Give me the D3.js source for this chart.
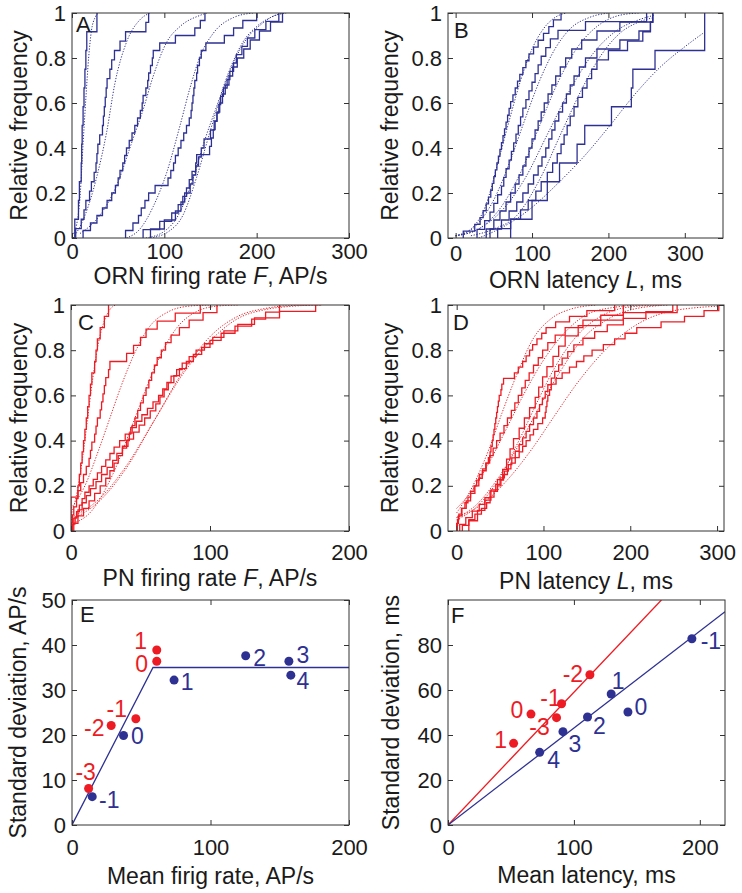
<!DOCTYPE html>
<html><head><meta charset="utf-8">
<script src="https://cdn.jsdelivr.net/npm/d3@7"></script>
<style>
body{margin:0;background:#fff}
text{font-family:"Liberation Sans",Arial,Helvetica,sans-serif}
</style>
</head><body>
<script>
// ---------------- DATA ----------------
// Panel A: ORN firing rate samples (AP/s), one array per stimulus level
const ornRate1 = [3, 7, 8, 10, 10.5, 11, 12, 13, 14, 15, 16, 27];
const ornRate2 = [4, 10, 13, 15, 19, 21, 24, 26, 27, 28, 30, 33, 34, 35, 36, 37, 38, 41, 43, 46, 52, 58, 80, 83];
const ornRate3 = [12, 20, 27, 33, 38, 43, 47, 50, 52, 55, 57, 59, 62, 65, 68, 71, 74, 76, 77, 80, 82, 83, 85, 87, 88, 95, 112, 133, 139, 144];
const ornRate4 = [58, 66, 72, 75, 79, 83, 90, 104, 107, 110, 112, 115, 118, 121, 124, 127, 129, 130, 131, 132, 133, 135, 136, 138, 140, 145, 165, 175, 185, 200];
const ornRate5 = [77, 95, 108, 115, 120, 124, 127, 130, 134, 135, 149, 151, 153, 155, 157, 159, 161, 164, 168, 171, 175, 178, 184, 190, 198, 210, 224];
const ornRate6 = [85, 100, 112, 118, 122, 128, 131, 134, 137, 140, 143, 150, 154, 157, 160, 163, 166, 170, 174, 179, 186, 193, 203, 215, 228];
const ornRateFit1 = [[0,0.01],[5,0.06],[9,0.2],[12,0.42],[15,0.62],[18,0.8],[21,0.92],[25,0.98],[29,1]];
const ornRateFit2 = [[1.4,0],[14,0.1],[26.7,0.27],[37.5,0.47],[46.6,0.69],[59,0.87],[73.6,0.97],[84.5,1]];
const ornRateFit3 = [[8.7,0.02],[30,0.1],[48,0.23],[66,0.44],[77,0.57],[88,0.72],[102.5,0.87],[117,0.94],[139,0.99],[146,1]];
const ornRateFit4 = [[59,0],[73.6,0.04],[88,0.14],[102.5,0.29],[117,0.5],[128,0.67],[139,0.81],[153,0.91],[175,0.98],[196,1]];
const ornRateFit5 = [[80,0],[100,0.03],[115,0.1],[130,0.25],[145,0.45],[158,0.6],[170,0.74],[185,0.87],[200,0.94],[215,0.98],[230,1]];
const ornRateFit6 = [[85,0],[105,0.03],[120,0.1],[135,0.27],[150,0.48],[162,0.64],[175,0.78],[190,0.89],[205,0.95],[220,0.99],[232,1]];

// Panel B: ORN latency samples (ms)
const ornLat1 = [10, 25, 32, 36, 40, 43, 46, 48, 50, 52, 54, 56, 58, 60, 62, 64, 66, 68, 70, 72, 75, 78, 81, 84, 88, 92, 96, 102, 108, 115, 122, 128, 138];
const ornLat2 = [28, 38, 45, 50, 55, 60, 63, 66, 70, 73, 76, 79, 82, 85, 88, 92, 96, 100, 104, 108, 112, 118, 124, 134, 170, 250];
const ornLat3 = [40, 50, 58, 66, 72, 78, 83, 88, 92, 96, 100, 104, 108, 112, 116, 121, 126, 131, 137, 144, 152, 165, 185, 215, 258];
const ornLat4 = [45, 60, 70, 80, 88, 95, 102, 108, 113, 118, 122, 126, 130, 135, 140, 145, 150, 155, 162, 170, 185, 215, 240, 255, 258];
const ornLat5 = [55, 72, 85, 95, 105, 112, 120, 127, 133, 138, 142, 146, 150, 155, 160, 166, 172, 178, 185, 200, 225, 245, 255, 258];
const ornLat6 = [72, 100, 120, 136, 159, 169, 204, 230, 232, 261, 326, 326];
const ornLatFit1 = [[0,0.01],[20,0.04],[40,0.15],[55,0.33],[70,0.52],[85,0.7],[100,0.84],[115,0.93],[130,0.98],[145,1]];
const ornLatFit2 = [[0,0.01],[25,0.05],[50,0.17],[70,0.33],[90,0.52],[110,0.7],[130,0.84],[150,0.93],[175,0.98],[200,1]];
const ornLatFit3 = [[0,0.01],[30,0.04],[60,0.14],[85,0.29],[110,0.5],[135,0.7],[160,0.85],[185,0.94],[215,0.99],[240,1]];
const ornLatFit4 = [[0,0.01],[30,0.04],[60,0.12],[90,0.26],[120,0.46],[150,0.66],[180,0.82],[210,0.92],[240,0.97],[260,0.99]];
const ornLatFit5 = [[20,0.01],[50,0.04],[80,0.1],[110,0.26],[140,0.48],[165,0.66],[190,0.81],[215,0.91],[240,0.96],[260,0.98]];
const ornLatFit6 = [[30,0],[51,0.03],[94,0.12],[136,0.25],[170,0.37],[202,0.5],[235,0.64],[268,0.76],[300,0.85],[328,0.92]];

// Panel C: PN firing rate samples (AP/s)
const pnRate1 = [0, 0, 0, 5, 6, 7, 8, 9, 10, 11, 12, 13, 14, 15, 17, 18, 19, 21, 24, 27];
const pnRate2 = [0, 1, 2, 4, 5, 7, 9, 11, 13, 14, 15, 17, 18, 19, 21, 22, 23, 24, 25, 27, 28, 40, 45, 50, 54, 62, 75, 93];
const pnRate3 = [2, 5, 9, 13, 17, 21, 25, 28, 31, 34, 37, 40, 42, 44, 46, 48, 50, 52, 54, 56, 58, 60, 62, 65, 68, 72, 78, 85, 95, 105];
const pnRate4 = [1, 2, 4, 6, 8, 10, 13, 16, 19, 22, 25, 28, 31, 35, 39, 43, 47, 51, 55, 59, 63, 66, 69, 72, 76, 80, 85, 90, 96, 102, 110, 120, 132, 150, 176];
const pnRate5 = [0, 3, 5, 8, 11, 14, 18, 22, 26, 30, 33, 37, 41, 45, 49, 53, 57, 61, 64, 67, 70, 74, 78, 83, 88, 94, 100, 108, 118, 130, 140, 150];
const pnRateFit1 = [[0,0.07],[4,0.16],[8,0.31],[12,0.5],[16,0.69],[20,0.84],[24,0.93],[28,0.98],[32,1]];
const pnRateFit2 = [[0,0.1],[10,0.2],[20,0.36],[28,0.5],[36,0.64],[46,0.79],[56,0.9],[70,0.97],[85,0.995],[100,1]];
const pnRateFit3 = [[0,0.03],[15,0.09],[30,0.25],[46,0.5],[60,0.72],[75,0.89],[90,0.97],[105,0.995],[120,1]];
const pnRateFit4 = [[0,0.05],[20,0.13],[40,0.28],[60,0.49],[80,0.7],[100,0.86],[120,0.95],[140,0.985],[160,0.998],[180,1]];
const pnRateFit5 = [[0,0.06],[20,0.14],[40,0.29],[60,0.49],[80,0.69],[100,0.84],[120,0.94],[140,0.98],[160,0.995],[180,1]];

// Panel D: PN latency samples (ms)
const pnLat1 = [0, 1, 2.5, 5.5, 9.5, 13, 16, 20, 23, 26, 30, 33.5, 36.5, 38.5, 39.5, 41, 42, 43, 44, 45, 46, 47, 48, 49, 51, 52, 54, 66.5, 71, 76, 80, 84, 87.5, 92.5, 98, 103, 114, 130, 150, 182];
const pnLat2 = [0, 2, 6, 11, 16, 21, 25.5, 29.5, 34, 38, 42, 46, 50, 54.5, 58.5, 63, 67, 71, 75, 79, 83.5, 88.5, 94, 99, 105, 113.5, 125, 145.5, 192, 254];
const pnLat3 = [14, 24, 32.5, 39.5, 47, 53, 57.5, 61.5, 65.5, 72, 78, 84, 90.5, 94.5, 99, 104, 111, 117.5, 125, 140, 166, 192];
const pnLat4 = [3.5, 10.5, 18, 26, 32.5, 38.5, 45, 50, 55, 59.5, 63.5, 67.5, 72, 76, 80, 84, 88.5, 92.5, 95.5, 98.8, 102, 105, 109, 113, 117.5, 121.5, 128, 135, 145.5, 159, 173.5, 192, 218, 249];
const pnLat5 = [6.5, 14, 21, 28.5, 34.5, 38.5, 43, 47, 51, 54, 58.5, 62.5, 67.5, 72, 76, 80, 84.5, 88.5, 93.5, 99, 102, 103, 104, 105, 107, 109, 114.5, 121.5, 130, 138, 146.5, 156, 169, 182, 194, 207.5, 235.5, 262.5, 285, 302];
const pnLatFit1 = [[0,0.08],[16,0.18],[37,0.36],[52,0.52],[68,0.68],[88,0.85],[109,0.94],[130,0.98],[161,1]];
const pnLatFit2 = [[0,0.1],[16,0.17],[37,0.3],[57,0.45],[78,0.61],[99,0.75],[125,0.88],[151,0.96],[182,0.99],[213,1]];
const pnLatFit3 = [[0,0.05],[21,0.1],[47,0.22],[73,0.41],[94,0.58],[114,0.73],[140,0.87],[166,0.95],[197,0.99],[234,1]];
const pnLatFit4 = [[0,0.06],[21,0.11],[47,0.23],[73,0.39],[94,0.54],[120,0.71],[145,0.85],[171,0.93],[202,0.98],[244,1]];
const pnLatFit5 = [[0,0.06],[26,0.11],[57,0.22],[88,0.37],[111,0.5],[140,0.66],[171,0.8],[202,0.9],[244,0.97],[302,0.995]];

// Panel E: mean vs SD of firing rate
const ornLevelsE = ["-1", "0", "1", "2", "3", "4"];
const ornMeanRate = [14.6, 37.2, 73.7, 125.4, 156.6, 158];
const ornSdRate = [6.3, 19.9, 32.2, 37.6, 36.4, 33.3];
const pnLevelsE = ["-3", "-2", "-1", "0", "1"];
const pnMeanRate = [12, 28.3, 46.1, 61.2, 61.2];
const pnSdRate = [8.1, 22.1, 23.6, 36.4, 38.9];
const fitLineRateX = [0, 58.5, 200];
const fitLineRateY = [0, 35, 35];

// Panel F: mean vs SD of latency
const ornLevelsF = ["-1", "0", "1", "2", "3", "4"];
const ornMeanLat = [193.7, 142.9, 129.6, 110.8, 91.3, 72.8];
const ornSdLat = [82.8, 50.2, 58.2, 48, 41.5, 32.3];
const pnLevelsF = ["-3", "-2", "-1", "0", "1"];
const pnMeanLat = [86.2, 112.7, 90.2, 65.9, 52.1];
const pnSdLat = [47.7, 66.8, 53.9, 49.3, 36.3];
const ornLineLatX = [0, 220];
const ornLineLatY = [0, 94.8];
const pnLineLatX = [0, 169.5];
const pnLineLatY = [0, 100];

// Tick values
const cdfTicks = [0, 0.2, 0.4, 0.6, 0.8, 1];
const ticks0to300 = [0, 100, 200, 300];
const ticks0to200 = [0, 100, 200];
const sdRateTicks = [0, 10, 20, 30, 40, 50];
const sdLatTicks = [0, 20, 40, 60, 80];

// ---------------- STYLE / LAYOUT ----------------
const BLUE = "#2e3192", RED = "#ed1c24", AXIS = "#333", TXT = "#1a1a1a";
const FS_TICK = 22, FS_LAB = 23, FS_PT = 23, FS_LET = 22;
const FONT = '"Liberation Sans", Arial, Helvetica, sans-serif';

// label offsets (px) relative to the point centre
const offE_orn = {"-1":[17,3],"0":[14,1],"1":[13,2],"2":[14,2],"3":[14,-6],"4":[12,6]};
const offE_pn  = {"-3":[-3,-17],"-2":[-17,2],"-1":[-19,-10],"0":[-15,3],"1":[-16,-9]};
const offF_orn = {"-1":[19,2],"0":[13,-5],"1":[7,-13],"2":[12,9],"3":[12,12],"4":[14,8]};
const offF_pn  = {"-3":[-17,9],"-2":[-17,-1],"-1":[-11,-6],"0":[-14,-4],"1":[-13,-3]};

const svg = d3.select("body").append("svg").attr("width", 742).attr("height", 893);

function panel(o) {
  const x = d3.scaleLinear().domain(o.xDomain).range([o.L, o.R]);
  const y = d3.scaleLinear().domain(o.yDomain).range([o.B, o.T]);
  const g = svg.append("g");
  const cid = "clip" + o.letter;
  svg.append("clipPath").attr("id", cid).append("rect")
    .attr("x", o.L).attr("y", o.T).attr("width", o.R - o.L).attr("height", o.B - o.T);
  const plot = g.append("g").attr("clip-path", `url(#${cid})`);
  const fmt = d3.format("~g");

  const styleAxis = sel => {
    sel.select(".domain").remove();
    sel.attr("font-size", FS_TICK).attr("font-family", FONT);
    sel.selectAll("line").attr("stroke", AXIS);
    sel.selectAll("text").attr("fill", TXT);
  };
  g.append("g").attr("transform", `translate(0,${o.B})`)
    .call(d3.axisBottom(x).tickValues(o.xTicks).tickFormat(fmt).tickSizeInner(-5).tickSizeOuter(0).tickPadding(o.xPad))
    .call(styleAxis);
  g.append("g").attr("transform", `translate(0,${o.T})`)
    .call(d3.axisTop(x).tickValues(o.xTicks).tickFormat("").tickSizeInner(-5).tickSizeOuter(0))
    .call(styleAxis);
  g.append("g").attr("transform", `translate(${o.L},0)`)
    .call(d3.axisLeft(y).tickValues(o.yTicks).tickFormat(fmt).tickSizeInner(-5).tickSizeOuter(0).tickPadding(6))
    .call(styleAxis);
  g.append("g").attr("transform", `translate(${o.R},0)`)
    .call(d3.axisRight(y).tickValues(o.yTicks).tickFormat("").tickSizeInner(-5).tickSizeOuter(0))
    .call(styleAxis);

  g.append("rect").attr("x", o.L).attr("y", o.T).attr("width", o.R - o.L).attr("height", o.B - o.T)
    .attr("fill", "none").attr("stroke", AXIS).attr("stroke-width", 1);

  const xl = g.append("text").attr("x", (o.L + o.R) / 2).attr("y", o.B + o.xLabelOff)
    .attr("text-anchor", "middle").attr("font-size", FS_LAB).attr("fill", TXT);
  o.xLabel.forEach(p => xl.append("tspan").text(p[0]).attr("font-style", p[1] ? "italic" : null));
  g.append("text").attr("transform", `translate(${o.yLabelX},${(o.T + o.B) / 2}) rotate(-90)`)
    .attr("text-anchor", "middle").attr("dominant-baseline", "central")
    .attr("font-size", FS_LAB).attr("fill", TXT).text(o.yLabel);
  g.append("text").attr("x", o.letterPos[0]).attr("y", o.letterPos[1])
    .attr("font-size", FS_LET).attr("fill", TXT).text(o.letter);
  return {x, y, plot, g};
}

function ecdf(p, samples, color) {
  const n = samples.length;
  const pts = [[samples[0], 0]].concat(samples.map((v, i) => [v, (i + 1) / n]));
  p.plot.append("path").datum(pts)
    .attr("d", d3.line().x(d => p.x(d[0])).y(d => p.y(d[1])).curve(d3.curveStepAfter))
    .attr("fill", "none").attr("stroke", color).attr("stroke-width", 1.3);
}
function fit(p, pts, color) {
  p.plot.append("path").datum(pts)
    .attr("d", d3.line().x(d => p.x(d[0])).y(d => p.y(d[1])).curve(d3.curveMonotoneX))
    .attr("fill", "none").attr("stroke", color).attr("stroke-width", 1)
    .attr("stroke-dasharray", "1.2,1.6");
}
function line(p, xs, ys, color) {
  p.plot.append("path").datum(xs.map((v, i) => [v, ys[i]]))
    .attr("d", d3.line().x(d => p.x(d[0])).y(d => p.y(d[1])))
    .attr("fill", "none").attr("stroke", color).attr("stroke-width", 1.3);
}
function dots(p, xs, ys, labels, offs, color) {
  xs.forEach((v, i) => {
    const cx = p.x(v), cy = p.y(ys[i]);
    p.g.append("circle").attr("cx", cx).attr("cy", cy).attr("r", 4.5).attr("fill", color);
    const o = offs[labels[i]];
    p.g.append("text").attr("x", cx + o[0]).attr("y", cy + o[1])
      .attr("text-anchor", "middle").attr("dominant-baseline", "central")
      .attr("font-size", FS_PT).attr("fill", color).text(labels[i]);
  });
}

const colL = [72, 349], colR = [448, 724];

// A
const pA = panel({letter: "A", letterPos: [76, 32], L: colL[0], R: colL[1], T: 13, B: 238,
  xDomain: [0, 300], yDomain: [0, 1], xTicks: ticks0to300, yTicks: cdfTicks, xPad: 5,
  xLabelOff: 46, yLabelX: 19, xLabel: [["ORN firing rate "], ["F", true], [", AP/s"]], yLabel: "Relative frequency"});
[ornRateFit1, ornRateFit2, ornRateFit3, ornRateFit4, ornRateFit5, ornRateFit6].forEach(f => fit(pA, f, BLUE));
[ornRate1, ornRate2, ornRate3, ornRate4, ornRate5, ornRate6].forEach(s => ecdf(pA, s, BLUE));

// B
const pB = panel({letter: "B", letterPos: [454, 38], L: colR[0], R: 723, T: 13, B: 238,
  xDomain: [-10, 350], yDomain: [0, 1], xTicks: ticks0to300, yTicks: cdfTicks, xPad: 7,
  xLabelOff: 50, yLabelX: 390, xLabel: [["ORN latency "], ["L", true], [", ms"]], yLabel: "Relative frequency"});
[ornLatFit1, ornLatFit2, ornLatFit3, ornLatFit4, ornLatFit5, ornLatFit6].forEach(f => fit(pB, f, BLUE));
[ornLat1, ornLat2, ornLat3, ornLat4, ornLat5, ornLat6].forEach(s => ecdf(pB, s, BLUE));

// C
const pC = panel({letter: "C", letterPos: [78, 330], L: 71, R: colL[1], T: 305, B: 531,
  xDomain: [0, 200], yDomain: [0, 1], xTicks: ticks0to200, yTicks: cdfTicks, xPad: 13,
  xLabelOff: 55, yLabelX: 19, xLabel: [["PN firing rate "], ["F", true], [", AP/s"]], yLabel: "Relative frequency"});
[pnRateFit1, pnRateFit2, pnRateFit3, pnRateFit4, pnRateFit5].forEach(f => fit(pC, f, RED));
[pnRate1, pnRate2, pnRate3, pnRate4, pnRate5].forEach(s => ecdf(pC, s, RED));

// D
const pD = panel({letter: "D", letterPos: [453, 330], L: colR[0], R: colR[1], T: 305, B: 531,
  xDomain: [-10, 308], yDomain: [0, 1], xTicks: ticks0to300, yTicks: cdfTicks, xPad: 13,
  xLabelOff: 58, yLabelX: 390, xLabel: [["PN latency "], ["L", true], [", ms"]], yLabel: "Relative frequency"});
[pnLatFit1, pnLatFit2, pnLatFit3, pnLatFit4, pnLatFit5].forEach(f => fit(pD, f, RED));
[pnLat1, pnLat2, pnLat3, pnLat4, pnLat5].forEach(s => ecdf(pD, s, RED));

// E
const pE = panel({letter: "E", letterPos: [80, 622], L: colL[0], R: colL[1], T: 600, B: 825,
  xDomain: [0, 200], yDomain: [0, 50], xTicks: ticks0to200, yTicks: sdRateTicks, xPad: 14,
  xLabelOff: 59, yLabelX: 18, xLabel: [["Mean firig rate, AP/s"]], yLabel: "Standard deviation, AP/s"});
line(pE, fitLineRateX, fitLineRateY, BLUE);
dots(pE, pnMeanRate, pnSdRate, pnLevelsE, offE_pn, RED);
dots(pE, ornMeanRate, ornSdRate, ornLevelsE, offE_orn, BLUE);

// F
const pF = panel({letter: "F", letterPos: [451, 623], L: colR[0], R: 725, T: 600, B: 825,
  xDomain: [0, 220], yDomain: [0, 100], xTicks: ticks0to200, yTicks: sdLatTicks, xPad: 14,
  xLabelOff: 58, yLabelX: 391, xLabel: [["Mean latency, ms"]], yLabel: "Standard deviation, ms"});
line(pF, pnLineLatX, pnLineLatY, RED);
line(pF, ornLineLatX, ornLineLatY, BLUE);
dots(pF, pnMeanLat, pnSdLat, pnLevelsF, offF_pn, RED);
dots(pF, ornMeanLat, ornSdLat, ornLevelsF, offF_orn, BLUE);
</script>
</body></html>
